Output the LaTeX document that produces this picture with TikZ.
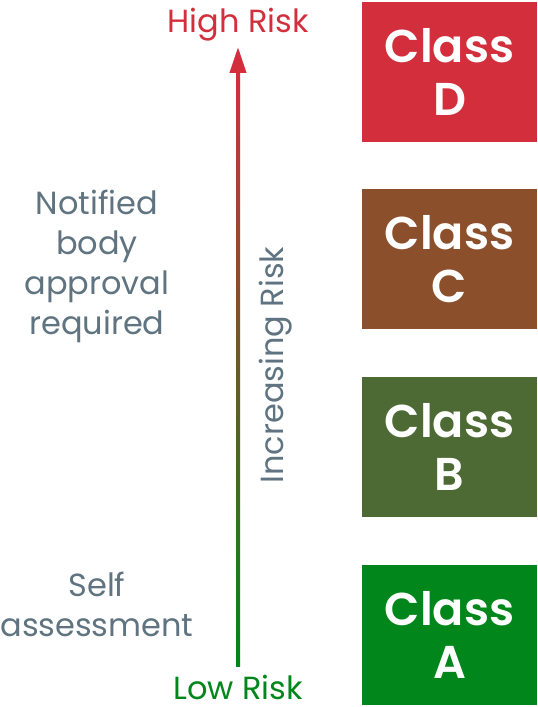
\documentclass[tikz,border=0pt]{standalone}
\usepackage{fontspec}
\setmainfont{Poppins}
\newfontfamily\classfont{Poppins SemiBold}
\usepackage{xcolor}
\usepackage{tikz}
\usetikzlibrary{arrows.meta, calc}

\definecolor{riskred}{HTML}{D32E3C}
\definecolor{riskbrown}{HTML}{8B4F2C}
\definecolor{riskolive}{HTML}{4E6A34}
\definecolor{riskgreen}{HTML}{00861A}
\definecolor{notegray}{HTML}{5F7480}

\begin{document}
\begin{tikzpicture}[x=1pt, y=1pt, every node/.style={font=\fontsize{32}{40}\selectfont}]
    \tikzstyle{classbox}=[rectangle, fill=#1, minimum width=175pt, minimum height=140pt, align=center, text=white, inner sep=0pt, font=\fontsize{46}{53}\selectfont\classfont]
    \tikzstyle{note}=[align=center, text=notegray, inner sep=0pt]
    \tikzstyle{level}=[inner sep=0pt, anchor=base]

    \useasboundingbox (0,0) rectangle (538,707);

    % risk classes
    \node[classbox=riskred] (classd) at (449.5,635) {Class\\D};
    \node[classbox=riskbrown] (classc) at (449.5,447.5) {Class\\C};
    \node[classbox=riskolive] (classb) at (449.5,260) {Class\\B};
    \node[classbox=riskgreen] (classa) at (449.5,72) {Class\\A};

    % risk scale
    \node[level, text=riskred] (high) at (238,674) {High Risk};
    \node[level, text=riskgreen] (low) at (238,8) {Low Risk};
    \coordinate (tail) at ($(low.base)+(0,32)$);
    \coordinate (tip) at ($(high.base)+(0,-14)$);
    \shade[bottom color=riskgreen, top color=riskred] ($(tail)+(-2,0)$) rectangle ($(tip)+(2,-24)$);
    \draw[riskred, line width=4pt, -{Triangle[length=26pt, width=16pt]}] ($(tip)+(0,-30)$) -- (tip);
    \node[note, rotate=90] (increasing) at (276,342) {Increasing Risk};

    % assessment notes
    \node[note] (notified) at (97,441) {Notified\\body\\approval\\required};
    \node[note] (self) at (97,103) {Self\\assessment};
\end{tikzpicture}
\end{document}
